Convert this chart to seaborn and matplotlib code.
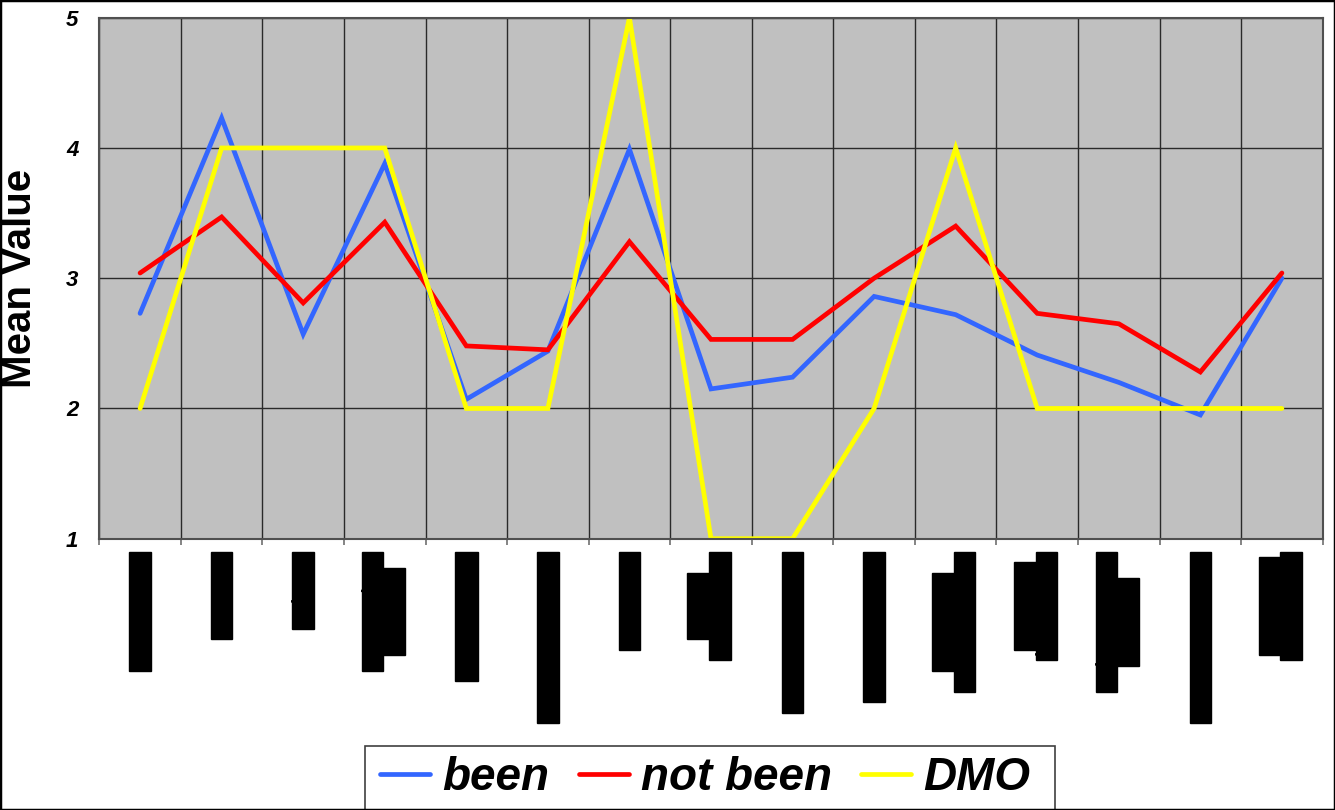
import matplotlib
matplotlib.use("Agg")
import matplotlib.pyplot as plt
import matplotlib.transforms as mtransforms
from matplotlib.lines import Line2D
from matplotlib.patches import Rectangle
import numpy as np
import pandas as pd
import seaborn as sns

# Item labels (two-line labels use "\n")
item_labels = [
    "Statement 1",
    "Item two",
    "Third Q",
    "Fourth item\nquestion",
    "Fifth survey",
    "Sixth item group",
    "Seventh Q",
    "Eighth\nitem label",
    "Ninth item text",
    "Tenth question",
    "Eleventh:\nsurvey answer",
    "Twelfth:\nitem label",
    "Thirteenth Q:\nresponse",
    "Fourteenth query",
    "Fifteenth\nlast label",
]

# Mean values per group
been = [2.73, 4.23, 2.57, 3.88, 2.07, 2.44, 3.99, 2.15, 2.24, 2.86,
        2.72, 2.41, 2.20, 1.95, 3.00]
not_been = [3.04, 3.47, 2.81, 3.43, 2.48, 2.45, 3.28, 2.53, 2.53, 3.00,
            3.40, 2.73, 2.65, 2.28, 3.04]
dmo = [2, 4, 4, 4, 2, 2, 5, 1, 1, 2, 4, 2, 2, 2, 2]

series_names = ["been", "not been", "DMO"]
series_colors = ["#3366FF", "#FF0000", "#FFFF00"]
y_ticks = [1, 2, 3, 4, 5]

n = len(item_labels)
df = pd.DataFrame({
    "pos": np.tile(np.arange(n), 3),
    "value": been + not_been + dmo,
    "series": np.repeat(series_names, n),
})

sns.set_theme(style="white")
plt.rcParams["font.family"] = ["Liberation Sans", "DejaVu Sans"]
plt.rcParams["text.color"] = "black"
plt.rcParams["axes.labelcolor"] = "black"
plt.rcParams["xtick.color"] = "black"
plt.rcParams["ytick.color"] = "black"

W, H, DPI = 1335, 810, 100
fig = plt.figure(figsize=(W / DPI, H / DPI), dpi=DPI)
ax = fig.add_axes([99.3 / W, 1 - 538.7 / H, (1322.7 - 99.3) / W, (538.7 - 17.7) / H])
ax.set_facecolor("#C0C0C0")

sns.lineplot(
    data=df, x="pos", y="value", hue="series", hue_order=series_names,
    palette=dict(zip(series_names, series_colors)), linewidth=3.4,
    sort=False, legend=False, ax=ax,
)
for ln in ax.lines:
    ln.set_solid_capstyle("round")
    ln.set_solid_joinstyle("miter")

# Axes limits, ticks and grid
ax.set_xlim(-0.5, n - 0.5)
ax.set_ylim(1, 5)
ax.set_xticks(np.arange(-0.5, n, 1.0))
ax.set_xticklabels([])
ax.set_yticks(y_ticks)
ax.set_yticklabels([str(v) for v in y_ticks], fontsize=16,
                   fontweight="bold", fontstyle="italic", color="black")
ax.tick_params(axis="y", length=0, pad=15)
ax.tick_params(axis="x", length=4, width=1.2, direction="out",
               color="#707070", bottom=True)
ax.grid(True, color="#2a2a2a", linewidth=1.0)
ax.set_axisbelow(True)
for sp in ax.spines.values():
    sp.set_visible(True)
    sp.set_color("#505050")
    sp.set_linewidth(1.5)
ax.set_xlabel("")
ax.set_ylabel("")

fig.text(20 / W, 1 - 278 / H, "Mean Value", rotation=90, ha="center",
         va="center", fontsize=29, fontweight="bold", color="black")

# Category labels, rotated, printed in black blocks
blend = mtransforms.blended_transform_factory(ax.transData, ax.transAxes)
label_kw = dict(rotation=90, fontsize=12.5, fontweight="bold",
                family="DejaVu Sans Mono", color="black",
                bbox=dict(boxstyle="square,pad=0.1", fc="black", ec="black"))
col_step = 21.5
for i, lab in enumerate(item_labels):
    lines = lab.split("\n")
    k = len(lines)
    shift = -1.7 if k > 1 else 0.0
    offsets = [shift + (j - (k - 1) / 2) * col_step for j in range(k)]
    longest = max(range(k), key=lambda j: len(lines[j]))
    tr = blend + mtransforms.ScaledTranslation(offsets[longest] / DPI, -15 / DPI,
                                               fig.dpi_scale_trans)
    main = ax.text(i, 0, lines[longest], transform=tr, ha="center", va="top",
                   **label_kw)
    for j in range(k):
        if j == longest:
            continue
        ax.annotate(lines[j], xy=(0.5, 0.5), xycoords=main,
                    xytext=(offsets[j] - offsets[longest], 0),
                    textcoords="offset pixels", ha="center", va="center",
                    annotation_clip=False, **label_kw)

# Legend with its own frame
fig.patches.append(Rectangle((365 / W, 0.5 / H), 690 / W, 64 / H,
                             transform=fig.transFigure, fc="white",
                             ec="#404040", lw=1.2, zorder=1))
handles = [Line2D([], [], color=c, lw=3.4, solid_capstyle="round")
           for c in series_colors]
leg = fig.legend(handles, series_names, loc="center left",
                 bbox_to_anchor=(380 / W, 1 - 778 / H), ncol=3, frameon=False,
                 borderpad=0, borderaxespad=0, handlelength=1.09,
                 handletextpad=0.26, columnspacing=0.65,
                 prop=dict(family="Liberation Sans", size=33, weight="bold",
                           style="italic"))
for t in leg.get_texts():
    t.set_color("black")

# Outer figure border
fig.patches.append(Rectangle((0, 0), 1, 1, transform=fig.transFigure,
                             fill=False, ec="black", lw=2.5, zorder=5))

fig.savefig("out.png", dpi=DPI)
